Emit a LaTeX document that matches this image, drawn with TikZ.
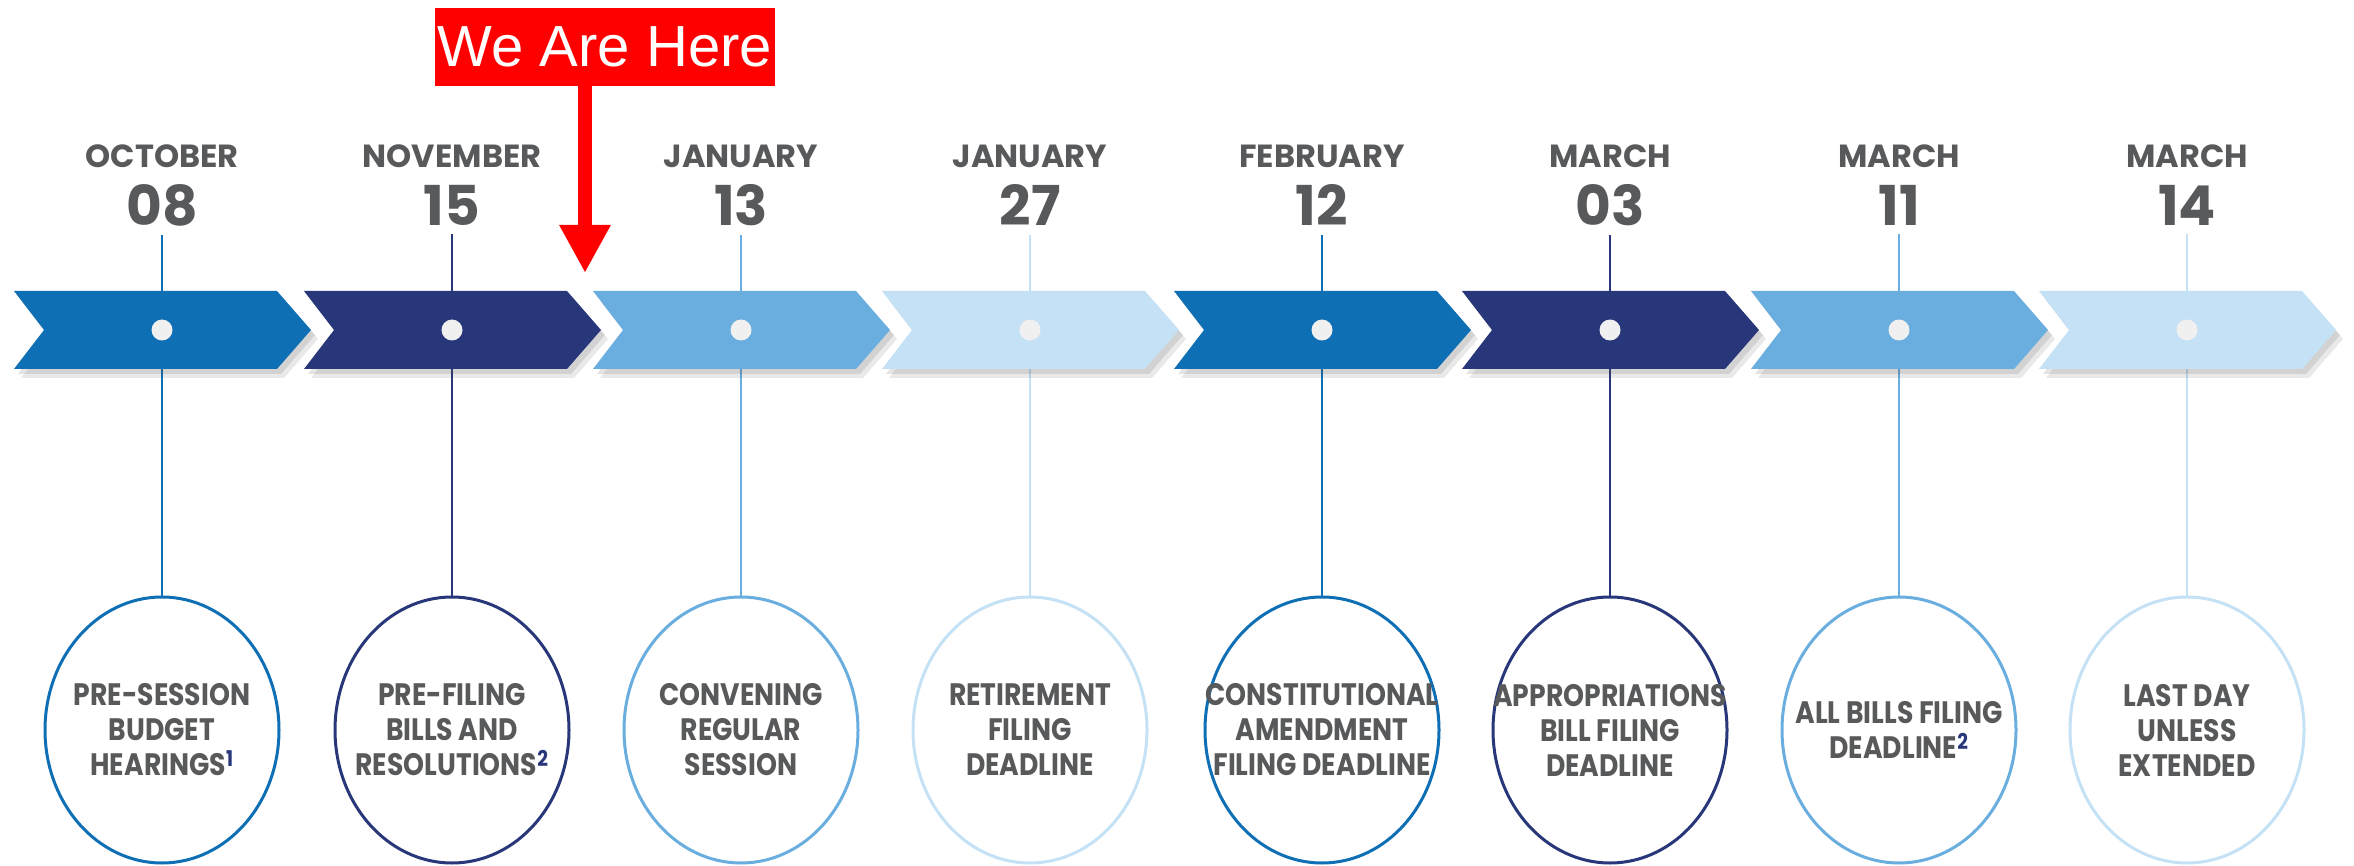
\documentclass[tikz,border=0pt]{standalone}
\usepackage{fontspec}
\setmainfont{Liberation Sans}
\newfontfamily\monthfont{Poppins}
\newfontfamily\circfont[FakeStretch=0.86]{Poppins}
\usetikzlibrary{arrows.meta,shadows,shapes.geometric}
\definecolor{midblue}{HTML}{0E6FB5}
\definecolor{navy}{HTML}{283779}
\definecolor{skyblue}{HTML}{6AAEDF}
\definecolor{paleblue}{HTML}{C5E1F5}
\definecolor{labelgray}{HTML}{58595B}
\definecolor{herered}{HTML}{FF0000}
\newcommand{\fnote}[1]{\textsuperscript{\textcolor{navy}{#1}}}
\begin{document}
\begin{tikzpicture}
[x=1pt,y=-1pt,
  monthdecorate/.style={inner sep=0pt,text=labelgray,font=\monthfont\bfseries\fontsize{32}{32}\selectfont},%
  daydecorate/.style={inner sep=0pt,text=labelgray,font=\monthfont\bfseries\fontsize{55}{55}\selectfont},%
  linedecorate/.style={-,line width=2pt},%
  chevrondecorate/.style={drop shadow={shadow xshift=4pt,shadow yshift=-5pt,opacity=0.15,fill=black!70},
    drop shadow={shadow xshift=7pt,shadow yshift=-9pt,opacity=0.12,fill=black!70}},%
  dotdecorate/.style={shape=circle,inner sep=0pt,minimum size=21pt,fill=white!88!gray},%
  circledecorate/.style={shape=ellipse,inner sep=0pt,minimum width=234pt,minimum height=266pt,draw,line width=3pt},%
  textdecorate/.style={inner sep=0pt,align=center,text=labelgray,font=\circfont\bfseries\fontsize{31}{35}\selectfont},%
  heredecorate/.style={fill=herered,text=white,inner xsep=3pt,inner ysep=0pt,minimum height=78pt,font=\fontsize{58}{58}\selectfont}]
\useasboundingbox (0,0) rectangle (2354,866);
%% columns: month, day, circle and its text
\foreach \i/\x/\mon/\day/\col/\txt in {
  1/162/OCTOBER/08/midblue/{PRE-SESSION\\BUDGET\\HEARINGS\fnote{1}},
  2/452/NOVEMBER/15/navy/{PRE-FILING\\BILLS AND\\RESOLUTIONS\fnote{2}},
  3/741/JANUARY/13/skyblue/{CONVENING\\REGULAR\\SESSION},
  4/1030/JANUARY/27/paleblue/{RETIREMENT\\FILING\\DEADLINE},
  5/1322/FEBRUARY/12/midblue/{CONSTITUTIONAL\\AMENDMENT\\FILING DEADLINE},
  6/1610/MARCH/03/navy/{APPROPRIATIONS\\BILL FILING\\DEADLINE},
  7/1899/MARCH/11/skyblue/{ALL BILLS FILING\\DEADLINE\fnote{2}},
  8/2187/MARCH/14/paleblue/{LAST DAY\\UNLESS\\EXTENDED}} {
  \node (m\i) at (\x,156) [monthdecorate] {\mon};
  \node (d\i) at (\x,205) [daydecorate] {\day};
  \node (c\i) at (\x,730) [circledecorate,draw=\col] {};
  \node (t\i) at (c\i.center) [textdecorate] {\txt};
  \draw[linedecorate,\col,shorten <=9pt] (d\i.south) -- (c\i.north);
}
%% chevrons with their dots
\foreach \i/\x/\col in {1/162/midblue, 2/452/navy, 3/741/skyblue, 4/1030/paleblue,
  5/1322/midblue, 6/1610/navy, 7/1899/skyblue, 8/2187/paleblue} {
  \fill[\col,chevrondecorate] ({\x-148},291) -- ({\x-118},330) -- ({\x-148},369)
    -- ({\x+115},369) -- ({\x+149},330) -- ({\x+115},291) -- cycle;
  \node (p\i) at (\x,330) [dotdecorate] {};
}
%% marker
\node (here) at (605,47) [heredecorate] {We Are Here};
\coordinate (tip) at (585,273);
\draw[herered,line width=14pt,-{Triangle[width=48pt,length=48pt]}] (here.south -| tip) -- (tip);
\end{tikzpicture}
\end{document}
